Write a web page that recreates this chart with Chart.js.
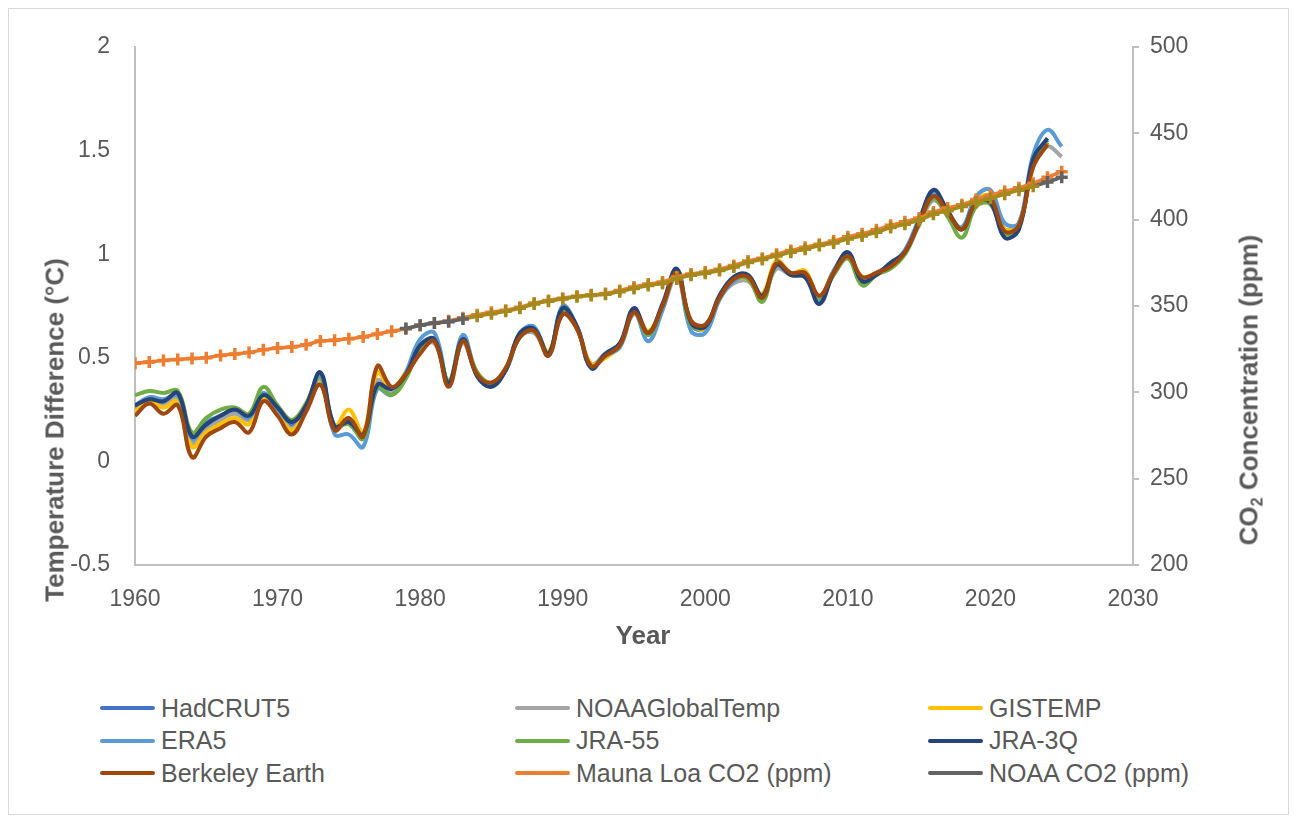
<!DOCTYPE html>
<html>
<head>
<meta charset="utf-8">
<title>Temperature and CO2</title>
<script src="https://cdn.jsdelivr.net/npm/chart.js@4.4.0/dist/chart.umd.min.js"></script>
<style>
    body { margin: 0; background: #fff; font-family: "Liberation Sans", Arial, sans-serif; color: #595959; }
    #wrap { position: relative; width: 1299px; height: 825px; overflow: hidden; }
    #frame { position: absolute; left: 8px; top: 8px; width: 1281px; height: 807px; border: 1px solid #d9d9d9; box-sizing: border-box; }
    #graph { position: absolute; left: 0; top: 0; }
    .titre { position: absolute; font-weight: bold; font-size: 26px; white-space: nowrap; transform: translate(-50%, -50%); }
    .titre.vertical { transform: translate(-50%, -50%) rotate(-90deg); }
    .titre sub { font-size: 16px; vertical-align: -5px; }
    #legende { position: absolute; left: 100px; top: 692px; display: grid; grid-template-columns: 415px 413px 330px; }
    .item { display: flex; align-items: center; height: 32.5px; font-size: 25px; white-space: nowrap; }
    .trait { width: 55px; height: 4px; margin-right: 6px; border-radius: 2px; }
</style>
</head>
<body>
<div id="wrap">
    <div id="frame"></div>
    <canvas id="graph" width="1299" height="670"></canvas>
    <div class="titre vertical" style="left:55px; top:430px;">Temperature Difference (°C)</div>
    <div class="titre vertical" style="left:1250px; top:390px;">CO<sub>2</sub> Concentration (ppm)</div>
    <div class="titre" style="left:643px; top:635px;">Year</div>
    <div id="legende"></div>
</div>
<script>
const annees = [
    1960, 1961, 1962, 1963, 1964, 1965, 1966, 1967, 1968, 1969,
    1970, 1971, 1972, 1973, 1974, 1975, 1976, 1977, 1978, 1979,
    1980, 1981, 1982, 1983, 1984, 1985, 1986, 1987, 1988, 1989,
    1990, 1991, 1992, 1993, 1994, 1995, 1996, 1997, 1998, 1999,
    2000, 2001, 2002, 2003, 2004, 2005, 2006, 2007, 2008, 2009,
    2010, 2011, 2012, 2013, 2014, 2015, 2016, 2017, 2018, 2019,
    2020, 2021, 2022, 2023, 2024, 2025
];

const ticksAnnees = [1960, 1970, 1980, 1990, 2000, 2010, 2020, 2030];
const ticksTemp = [-0.5, 0, 0.5, 1, 1.5, 2];
const ticksCO2 = [200, 250, 300, 350, 400, 450, 500];

// anomalies de température (°C), à partir de 1960
const hadcrut5 = [
    0.26, 0.29, 0.28, 0.31, 0.10, 0.17, 0.21, 0.24, 0.21, 0.31,
    0.25, 0.17, 0.26, 0.41, 0.16, 0.19, 0.11, 0.38, 0.34, 0.41,
    0.55, 0.59, 0.38, 0.58, 0.42, 0.37, 0.44, 0.61, 0.64, 0.52,
    0.73, 0.65, 0.46, 0.52, 0.56, 0.73, 0.61, 0.75, 0.91, 0.66,
    0.64, 0.80, 0.87, 0.88, 0.80, 0.94, 0.90, 0.89, 0.78, 0.91,
    1.00, 0.88, 0.91, 0.95, 1.01, 1.16, 1.29, 1.19, 1.13, 1.26,
    1.27, 1.12, 1.14, 1.45, 1.55
];
const noaaGlobalTemp = [
    0.25, 0.28, 0.27, 0.30, 0.09, 0.15, 0.20, 0.23, 0.20, 0.31,
    0.24, 0.16, 0.25, 0.40, 0.15, 0.20, 0.11, 0.39, 0.34, 0.41,
    0.54, 0.57, 0.39, 0.57, 0.42, 0.38, 0.44, 0.60, 0.62, 0.52,
    0.71, 0.64, 0.47, 0.52, 0.56, 0.71, 0.62, 0.74, 0.89, 0.67,
    0.66, 0.79, 0.86, 0.87, 0.80, 0.93, 0.90, 0.89, 0.79, 0.90,
    0.98, 0.88, 0.90, 0.94, 1.00, 1.14, 1.26, 1.19, 1.12, 1.24,
    1.26, 1.12, 1.15, 1.44, 1.52, 1.47
];
const gistemp = [
    0.24, 0.29, 0.26, 0.29, 0.07, 0.14, 0.18, 0.21, 0.18, 0.31,
    0.23, 0.15, 0.25, 0.38, 0.17, 0.25, 0.14, 0.43, 0.35, 0.43,
    0.53, 0.58, 0.38, 0.59, 0.43, 0.38, 0.45, 0.61, 0.63, 0.53,
    0.72, 0.64, 0.47, 0.50, 0.56, 0.73, 0.63, 0.75, 0.91, 0.67,
    0.64, 0.80, 0.88, 0.88, 0.81, 0.97, 0.91, 0.92, 0.79, 0.92,
    1.00, 0.89, 0.91, 0.94, 1.01, 1.16, 1.28, 1.20, 1.13, 1.26,
    1.28, 1.12, 1.15, 1.43, 1.54
];
const era5 = [
    0.27, 0.31, 0.30, 0.32, 0.11, 0.19, 0.22, 0.25, 0.21, 0.33,
    0.25, 0.19, 0.27, 0.41, 0.13, 0.13, 0.07, 0.35, 0.32, 0.43,
    0.59, 0.62, 0.38, 0.61, 0.42, 0.37, 0.44, 0.62, 0.65, 0.51,
    0.75, 0.65, 0.45, 0.51, 0.55, 0.72, 0.58, 0.73, 0.92, 0.63,
    0.62, 0.78, 0.87, 0.89, 0.80, 0.95, 0.91, 0.90, 0.78, 0.92,
    1.00, 0.88, 0.91, 0.95, 1.02, 1.17, 1.30, 1.20, 1.13, 1.28,
    1.31, 1.15, 1.15, 1.48, 1.60, 1.52
];
const jra55 = [
    0.32, 0.34, 0.33, 0.34, 0.14, 0.21, 0.25, 0.26, 0.23, 0.36,
    0.27, 0.20, 0.28, 0.42, 0.17, 0.18, 0.11, 0.36, 0.32, 0.40,
    0.55, 0.58, 0.39, 0.58, 0.43, 0.38, 0.45, 0.60, 0.63, 0.52,
    0.73, 0.64, 0.46, 0.51, 0.56, 0.72, 0.61, 0.75, 0.91, 0.66,
    0.65, 0.79, 0.88, 0.88, 0.77, 0.95, 0.90, 0.89, 0.79, 0.90,
    0.98, 0.85, 0.90, 0.93, 1.00, 1.15, 1.27, 1.18, 1.08, 1.23,
    1.24, 1.10, 1.13, 1.44, 1.54
];
const jra3q = [
    0.27, 0.30, 0.29, 0.33, 0.12, 0.18, 0.22, 0.25, 0.22, 0.32,
    0.26, 0.19, 0.27, 0.43, 0.17, 0.19, 0.13, 0.37, 0.35, 0.42,
    0.56, 0.59, 0.38, 0.59, 0.41, 0.36, 0.44, 0.62, 0.64, 0.52,
    0.74, 0.65, 0.45, 0.52, 0.57, 0.74, 0.62, 0.76, 0.93, 0.67,
    0.65, 0.80, 0.89, 0.90, 0.80, 0.95, 0.90, 0.89, 0.76, 0.91,
    1.01, 0.87, 0.90, 0.96, 1.01, 1.16, 1.31, 1.21, 1.12, 1.25,
    1.25, 1.08, 1.12, 1.46, 1.56
];
const berkeley = [
    0.22, 0.28, 0.23, 0.27, 0.02, 0.12, 0.16, 0.19, 0.14, 0.29,
    0.22, 0.13, 0.24, 0.37, 0.15, 0.21, 0.12, 0.46, 0.36, 0.42,
    0.52, 0.58, 0.36, 0.58, 0.42, 0.38, 0.45, 0.60, 0.63, 0.51,
    0.71, 0.64, 0.46, 0.51, 0.56, 0.72, 0.62, 0.75, 0.91, 0.68,
    0.66, 0.79, 0.88, 0.89, 0.79, 0.96, 0.91, 0.91, 0.80, 0.91,
    0.99, 0.89, 0.91, 0.94, 1.01, 1.15, 1.28, 1.20, 1.12, 1.25,
    1.27, 1.11, 1.14, 1.42, 1.53
];

// CO2 (ppm) : Mauna Loa depuis 1960, NOAA global depuis 1979
const maunaLoaCO2 = [
    316.9, 317.6, 318.5, 319.0, 319.6, 320.0, 321.4, 322.2, 323.1, 324.6,
    325.7, 326.3, 327.5, 329.7, 330.2, 331.1, 332.0, 333.8, 335.4, 336.8,
    338.8, 340.1, 341.5, 343.2, 344.9, 346.4, 347.6, 349.3, 351.7, 353.2,
    354.5, 355.7, 356.5, 357.2, 359.0, 361.0, 362.7, 363.9, 366.8, 368.5,
    369.7, 371.3, 373.5, 376.0, 377.7, 380.0, 382.1, 384.0, 385.8, 387.6,
    390.1, 391.9, 394.1, 396.7, 398.8, 401.0, 404.4, 406.8, 408.7, 411.7,
    414.2, 416.4, 418.5, 421.1, 424.6, 427.8
];
const debutNoaaCO2 = 1979;
const noaaCO2 = [
    336.9, 338.9, 340.1, 340.9, 342.5, 344.1, 345.5, 347.0, 348.7, 351.2,
    352.8, 354.1, 355.4, 356.1, 356.8, 358.3, 360.2, 361.9, 363.1, 365.7,
    367.8, 369.0, 370.6, 372.6, 375.2, 377.0, 379.0, 381.2, 382.9, 385.0,
    386.5, 388.8, 390.6, 392.7, 395.4, 397.3, 399.7, 403.1, 405.2, 407.6,
    410.1, 412.4, 414.7, 417.1, 419.3, 421.8, 424.6
];

const GRIS_TEXTE = '#595959';
const GRIS_AXE = '#bfbfbf';
const OLIVE = '#a6891c';

function points(valeurs, debut) {
    const i0 = annees.indexOf(debut);
    return valeurs.map((v, i) => ({ x: annees[i0 + i], y: v }));
}

function serieTemp(label, valeurs, couleur, ordre) {
    return {
        label: label,
        data: points(valeurs, 1960),
        yAxisID: 'yTemp',
        borderColor: couleur,
        backgroundColor: couleur,
        borderWidth: 4,
        pointRadius: 0,
        tension: 0.4,
        order: ordre
    };
}

function enOlive(x) {
    return x >= 1983 && x <= 2023;
}

const series = [
    serieTemp('HadCRUT5', hadcrut5, '#4472c4', 8),
    serieTemp('NOAAGlobalTemp', noaaGlobalTemp, '#a5a5a5', 7),
    serieTemp('GISTEMP', gistemp, '#ffc000', 6),
    serieTemp('ERA5', era5, '#5b9bd5', 5),
    serieTemp('JRA-55', jra55, '#70ad47', 4),
    serieTemp('JRA-3Q', jra3q, '#264478', 3),
    serieTemp('Berkeley Earth', berkeley, '#9e480e', 2),
    {
        label: 'Mauna Loa CO2 (ppm)',
        data: points(maunaLoaCO2, 1960),
        yAxisID: 'yCO2',
        borderColor: '#ed7d31',
        backgroundColor: '#ed7d31',
        borderWidth: 3.5,
        pointStyle: 'cross',
        pointRadius: 6,
        pointBorderWidth: 3.5,
        pointBorderColor: '#ed7d31',
        tension: 0.4,
        order: 1
    },
    {
        label: 'NOAA CO2 (ppm)',
        data: points(noaaCO2, debutNoaaCO2),
        yAxisID: 'yCO2',
        borderColor: '#636363',
        backgroundColor: '#636363',
        borderWidth: 3.5,
        pointStyle: 'cross',
        pointRadius: 6,
        pointBorderWidth: 3.5,
        pointBorderColor: ctx => (ctx.raw && enOlive(ctx.raw.x) && ctx.raw.x >= 1984) ? OLIVE : '#636363',
        segment: {
            borderColor: ctx => (enOlive(ctx.p0.parsed.x) && enOlive(ctx.p1.parsed.x)) ? OLIVE : '#636363'
        },
        tension: 0.4,
        order: 0
    }
];

function fixerTicks(liste) {
    return scale => { scale.ticks = liste.map(v => ({ value: v })); };
}

const policeTicks = { family: '"Liberation Sans", Arial, sans-serif', size: 23 };

new Chart(document.getElementById('graph'), {
    type: 'line',
    data: { datasets: series },
    options: {
        responsive: false,
        animation: false,
        events: [],
        layout: { padding: { top: 47, left: 0, right: 0, bottom: 0 } },
        plugins: {
            legend: { display: false },
            tooltip: { enabled: false }
        },
        scales: {
            x: {
                type: 'linear',
                min: 1960,
                max: 2030,
                afterBuildTicks: fixerTicks(ticksAnnees),
                afterFit: s => { s.height = 105; },
                grid: { display: false, drawTicks: false },
                border: { display: true, color: GRIS_AXE, width: 2 },
                ticks: { color: GRIS_TEXTE, font: policeTicks, padding: 21, maxRotation: 0, autoSkip: false, callback: v => String(v) }
            },
            yTemp: {
                type: 'linear',
                position: 'left',
                min: -0.5,
                max: 2,
                afterBuildTicks: fixerTicks(ticksTemp),
                afterFit: s => { s.width = 135; },
                grid: { display: false, drawTicks: false },
                border: { display: true, color: GRIS_AXE, width: 2 },
                ticks: { color: GRIS_TEXTE, font: policeTicks, padding: 25, callback: v => String(v) }
            },
            yCO2: {
                type: 'linear',
                position: 'right',
                min: 200,
                max: 500,
                afterBuildTicks: fixerTicks(ticksCO2),
                afterFit: s => { s.width = 166; },
                grid: { display: true, drawOnChartArea: false, drawTicks: true, tickLength: 6, color: GRIS_AXE, lineWidth: 2 },
                border: { display: true, color: GRIS_AXE, width: 2 },
                ticks: { color: GRIS_TEXTE, font: policeTicks, padding: 11, callback: v => String(v) }
            }
        }
    }
});

// légende en 3 colonnes, comme dans l'original
const legende = document.getElementById('legende');
series.forEach(s => {
    const item = document.createElement('div');
    item.className = 'item';
    const trait = document.createElement('span');
    trait.className = 'trait';
    trait.style.background = s.backgroundColor;
    const texte = document.createElement('span');
    texte.textContent = s.label;
    item.appendChild(trait);
    item.appendChild(texte);
    legende.appendChild(item);
});
</script>
</body>
</html>
